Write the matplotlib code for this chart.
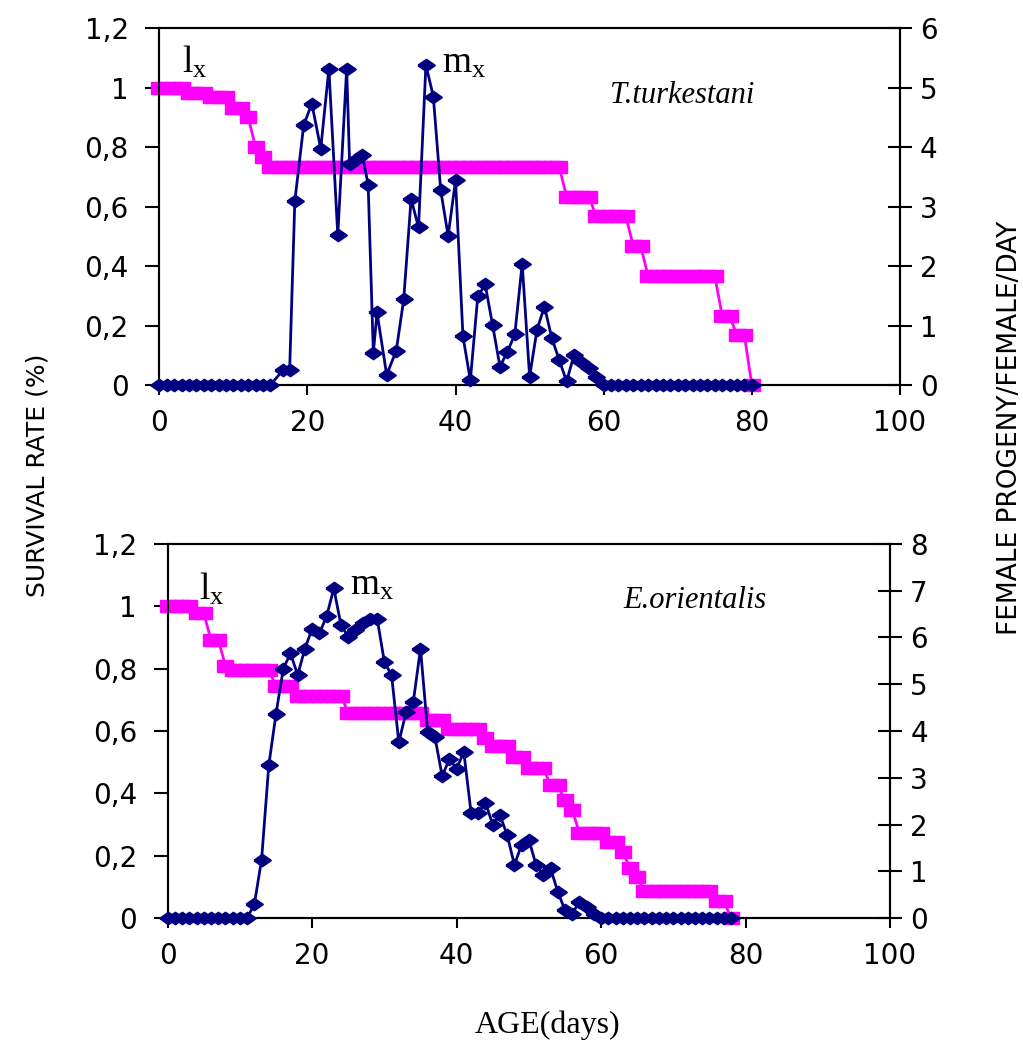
import matplotlib
matplotlib.use('Agg')
import matplotlib.pyplot as plt

plt.rcParams['font.family'] = ['DejaVu Sans']

# ---- data ----------------------------------------------------------------
# T. turkestani: survival (lx) per day, left axis
days_top = list(range(81))
lx_top = [1.0, 1.0, 1.0, 1.0, 0.983, 0.983, 0.983, 0.967, 0.967, 0.967,
          0.933, 0.933, 0.9, 0.8, 0.767,
          0.733, 0.733, 0.733, 0.733, 0.733, 0.733, 0.733, 0.733, 0.733, 0.733,
          0.733, 0.733, 0.733, 0.733, 0.733, 0.733, 0.733, 0.733, 0.733, 0.733,
          0.733, 0.733, 0.733, 0.733, 0.733, 0.733, 0.733, 0.733, 0.733, 0.733,
          0.733, 0.733, 0.733, 0.733, 0.733, 0.733, 0.733, 0.733, 0.733, 0.733,
          0.633, 0.633, 0.633, 0.633, 0.567, 0.567, 0.567, 0.567, 0.567,
          0.467, 0.467,
          0.367, 0.367, 0.367, 0.367, 0.367, 0.367, 0.367, 0.367, 0.367, 0.367,
          0.233, 0.233, 0.167, 0.167, 0.0]

# T. turkestani: female progeny/female/day (mx), right axis
mx_top_age = [0, 1, 2, 3, 4, 5, 6, 7, 8, 9, 10, 11, 12, 13, 14, 15,
              16.7, 17.6, 18.3, 19.5, 20.6, 21.8, 22.9, 24.1, 25.3, 25.7,
              26.8, 27.4, 28.2, 28.9, 29.4, 30.7,
              32, 33, 34, 35, 36, 37, 38, 39, 40, 41, 42, 43, 44, 45, 46,
              47, 48, 49, 50, 51, 52, 53, 54, 55, 56, 57, 58, 59,
              60, 61, 62, 63, 64, 65, 66, 67, 68, 69, 70, 71, 72, 73, 74,
              75, 76, 77, 78, 79, 80]
mx_top = [0, 0, 0, 0, 0, 0, 0, 0, 0, 0, 0, 0, 0, 0, 0, 0,
          0.25, 0.25, 3.09, 4.37, 4.73, 3.97, 5.32, 2.52, 5.32, 3.72,
          3.82, 3.87, 3.37, 0.54, 1.22, 0.17,
          0.58, 1.44, 3.13, 2.65, 5.38, 4.85, 3.27, 2.51, 3.44, 0.82, 0.08,
          1.49, 1.69, 1.01, 0.31, 0.56, 0.85, 2.04, 0.14, 0.93, 1.32, 0.79,
          0.42, 0.06, 0.51, 0.39, 0.28, 0.14,
          0, 0, 0, 0, 0, 0, 0, 0, 0, 0, 0, 0, 0, 0, 0,
          0, 0, 0, 0, 0, 0]

# E. orientalis
days_bot = list(range(79))
lx_bot = [1.0, 1.0, 1.0, 1.0, 0.977, 0.977, 0.893, 0.893, 0.81,
          0.797, 0.797, 0.797, 0.797, 0.797, 0.797,
          0.743, 0.743, 0.743,
          0.713, 0.713, 0.713, 0.713, 0.713, 0.713, 0.713,
          0.658, 0.658, 0.658, 0.658, 0.658, 0.658, 0.658, 0.658, 0.658, 0.658, 0.658,
          0.636, 0.636, 0.636, 0.607, 0.607, 0.607, 0.607, 0.607,
          0.578, 0.552, 0.552, 0.552, 0.517, 0.517, 0.482, 0.482, 0.482,
          0.427, 0.427, 0.379, 0.347, 0.274, 0.274, 0.274, 0.274,
          0.245, 0.245, 0.213, 0.161, 0.132,
          0.088, 0.088, 0.088, 0.088, 0.088, 0.088, 0.088, 0.088, 0.088, 0.088,
          0.056, 0.056, 0.0]
mx_bot = [0, 0, 0, 0, 0, 0, 0, 0, 0, 0, 0, 0,
          0.3, 1.25, 3.27, 4.37, 5.33, 5.66, 5.2, 5.76, 6.19, 6.09,
          6.45, 7.05, 6.26, 6.02, 6.15, 6.3, 6.4, 6.4, 5.48, 5.19,
          3.76, 4.4, 4.62, 5.76, 3.98, 3.87, 3.04, 3.4, 3.2, 3.55,
          2.26, 2.26, 2.47, 2.0, 2.2, 1.78, 1.14, 1.57, 1.68, 1.14,
          0.92, 1.07, 0.57, 0.17, 0.1, 0.35, 0.24, 0.1,
          0, 0, 0, 0, 0, 0, 0, 0, 0, 0, 0, 0, 0, 0, 0, 0, 0, 0, 0]

x_ticks = [0, 20, 40, 60, 80, 100]
left_ticks = [0, 0.2, 0.4, 0.6, 0.8, 1.0, 1.2]
left_labels = ['0', '0,2', '0,4', '0,6', '0,8', '1', '1,2']
right_ticks_top = [0, 1, 2, 3, 4, 5, 6]
right_ticks_bot = [0, 1, 2, 3, 4, 5, 6, 7, 8]

MAGENTA = '#ff00ff'
NAVY = '#000080'
SQUARE = [(-1, -0.8), (1, -0.8), (1, 0.8), (-1, 0.8), (-1, -0.8)]
DIAMOND = [(-1, 0), (0, 0.7), (1, 0), (0, -0.7), (-1, 0)]
SERIF = 'Liberation Serif'


def panel(ax, lx_x, lx_y, mx_x, mx_y, rticks, species, lx_at, mx_at, sp_at):
    ax.plot(lx_x, lx_y, color=MAGENTA, lw=2, marker=SQUARE, ms=11,
            mfc=MAGENTA, mec=MAGENTA, clip_on=False, zorder=3)
    ax.set_xlim(0, 100)
    ax.set_ylim(0, 1.2)
    ax.set_xticks(x_ticks)
    ax.set_yticks(left_ticks)
    ax.set_yticklabels(left_labels)
    ax.tick_params(axis='y', direction='out', length=10, width=1.5, pad=12, labelsize=20)
    ax.tick_params(axis='x', direction='out', length=7, width=1.5, pad=10, labelsize=20)

    tw = ax.twinx()
    tw.plot(mx_x, mx_y, color=NAVY, lw=2, marker=DIAMOND, ms=12, mew=1.5,
            mfc=NAVY, mec=NAVY, clip_on=False, zorder=4)
    tw.set_ylim(0, rticks[-1])
    tw.set_yticks(rticks)
    tw.tick_params(axis='y', direction='inout', length=17, width=1.5, pad=6, labelsize=20)

    for a in (ax, tw):
        for s in a.spines.values():
            s.set_linewidth(1.5)

    ax.text(lx_at[0], lx_at[1], r'$\mathregular{l_x}$', family=SERIF, fontsize=27)
    ax.text(mx_at[0], mx_at[1], r'$\mathregular{m_x}$', family=SERIF, fontsize=27)
    ax.text(sp_at[0], sp_at[1], species, family=SERIF, style='italic',
            fontsize=22, ha='center', va='center')


fig = plt.figure(figsize=(10.23, 10.48), dpi=100)
ax_top = fig.add_axes([0.1557, 0.6326, 0.7240, 0.3406])
ax_bot = fig.add_axes([0.1639, 0.1238, 0.7061, 0.3572])

panel(ax_top, days_top, lx_top, mx_top_age, mx_top, right_ticks_top,
      'T.turkestani', (3.0, 1.05), (38.2, 1.05), (70.6, 0.975))
panel(ax_bot, days_bot, lx_bot, days_bot, mx_bot, right_ticks_bot,
      'E.orientalis', (4.3, 1.02), (25.3, 1.037), (73.0, 1.02))

fig.text(0.037, 0.546, 'SURVIVAL RATE (%)', rotation=90, ha='center', va='center', fontsize=18)
fig.text(0.987, 0.592, 'FEMALE PROGENY/FEMALE/DAY', rotation=90, ha='center', va='center',
         fontsize=19)
fig.text(0.535, 0.022, 'AGE(days)', family=SERIF, ha='center', va='center', fontsize=23)

fig.savefig('out.png', dpi=100)
